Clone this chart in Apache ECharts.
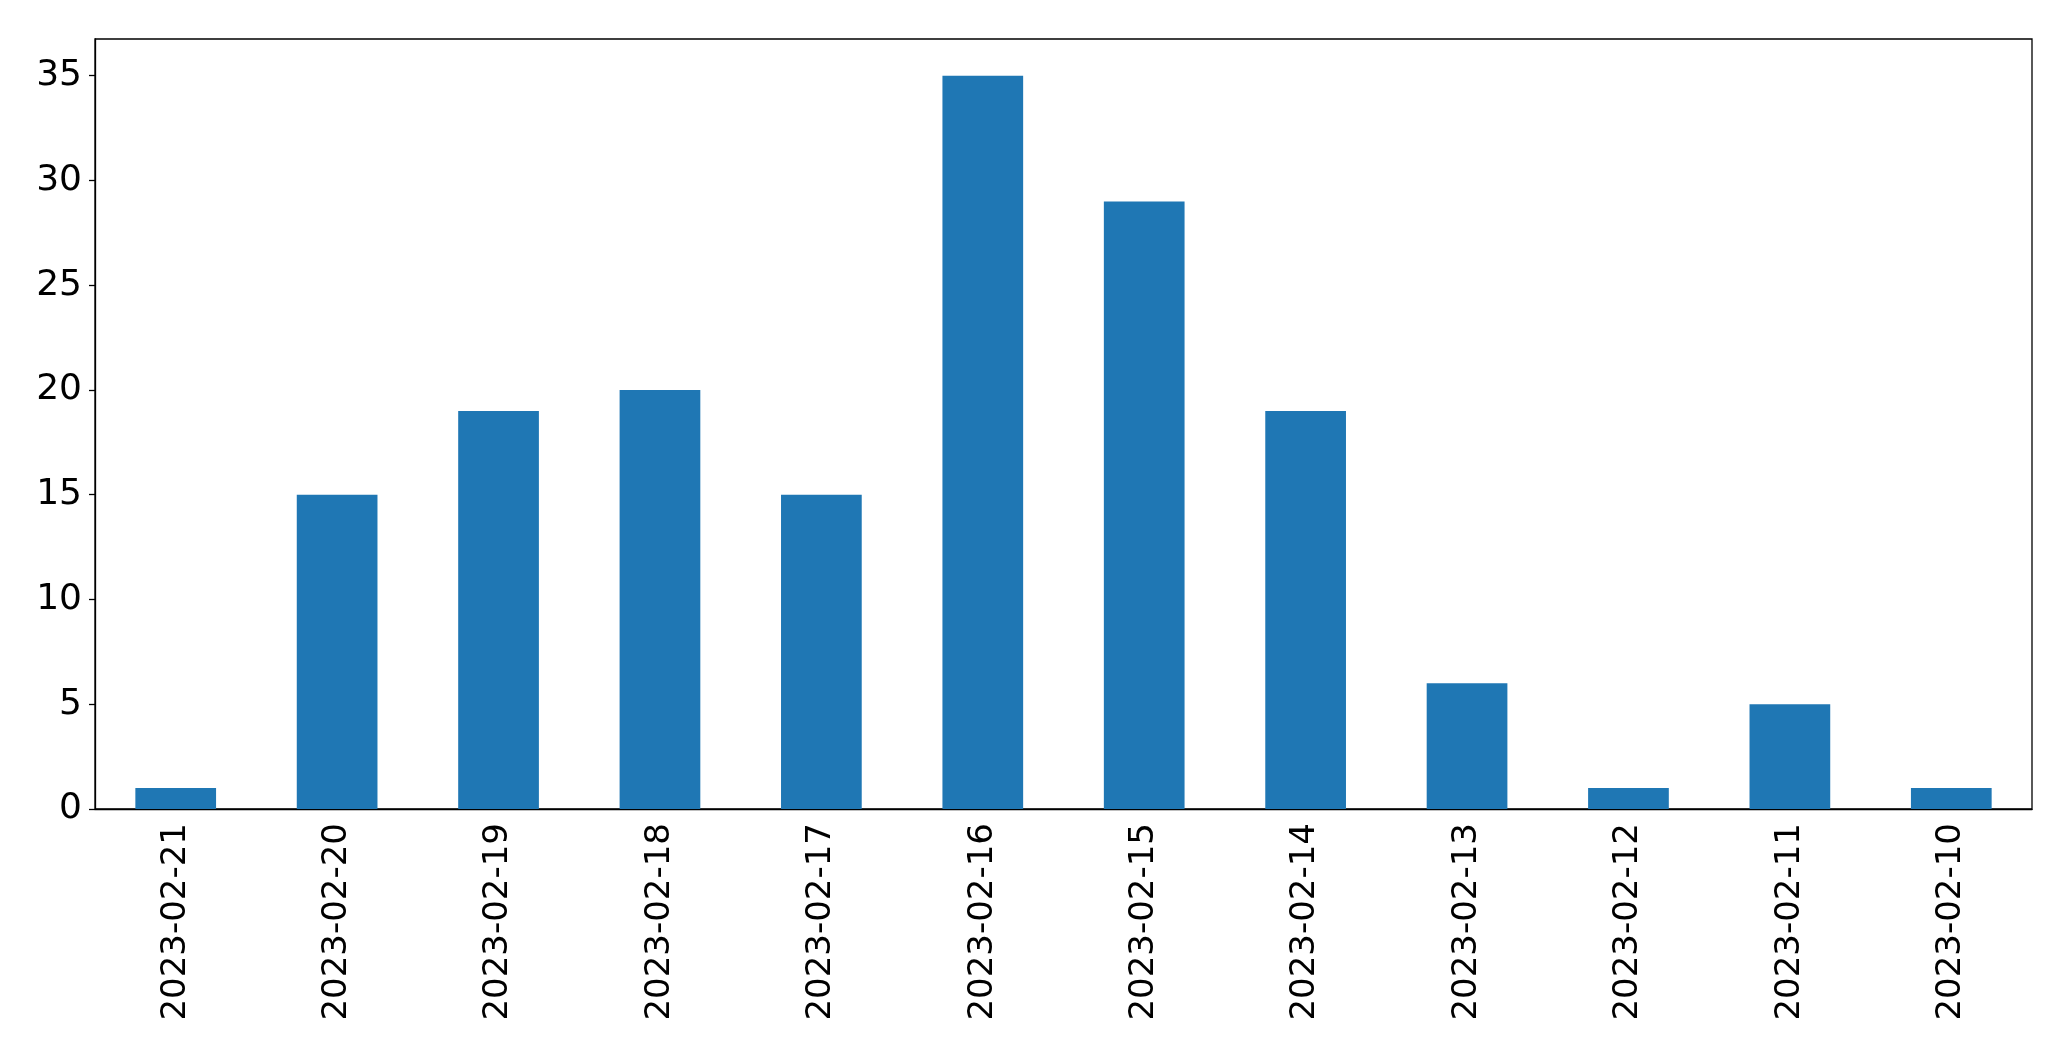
<!DOCTYPE html>
<html><head><meta charset="utf-8">
<script src="https://cdn.jsdelivr.net/npm/echarts@6/dist/echarts.min.js"></script>
<style>html,body{margin:0;padding:0;background:#fff}#c{width:2071px;height:1061px}</style>
</head><body><div id="c"></div>
<script>
const categories = ["2023-02-21","2023-02-20","2023-02-19","2023-02-18","2023-02-17","2023-02-16","2023-02-15","2023-02-14","2023-02-13","2023-02-12","2023-02-11","2023-02-10"];
const counts = [1, 15, 19, 20, 15, 35, 29, 19, 6, 1, 5, 1];
const yTicks = [0, 5, 10, 15, 20, 25, 30, 35];

const font = "DejaVu Sans";
const chart = echarts.init(document.getElementById('c'), null, {renderer: 'canvas'});
chart.setOption({
  animation: false,
  backgroundColor: '#fff',
  grid: {left: 95, right: 39, top: 39, bottom: 252, show: true, borderColor: '#000', borderWidth: 1.3, backgroundColor: 'transparent'},
  xAxis: {
    type: 'category', data: categories, boundaryGap: true,
    axisLine: {lineStyle: {color: '#000', width: 1.3}},
    axisTick: {alignWithLabel: true, length: 6, lineStyle: {color: '#000', width: 1.3}},
    axisLabel: {rotate: 90, color: '#000', fontFamily: font, fontSize: 34, margin: 14, interval: 0},
    splitLine: {show: false}
  },
  yAxis: {
    type: 'value', min: 0, max: 36.75, interval: 5,
    axisLine: {show: true, lineStyle: {color: '#000', width: 1.3}},
    axisTick: {show: true, length: 6, lineStyle: {color: '#000', width: 1.3}, customValues: yTicks},
    axisLabel: {color: '#000', fontFamily: font, fontSize: 36, margin: 13, customValues: yTicks},
    splitLine: {show: false}
  },
  series: [{
    type: 'bar', data: counts, barWidth: '50%',
    itemStyle: {color: '#1f77b4'}
  }]
});
</script></body></html>
